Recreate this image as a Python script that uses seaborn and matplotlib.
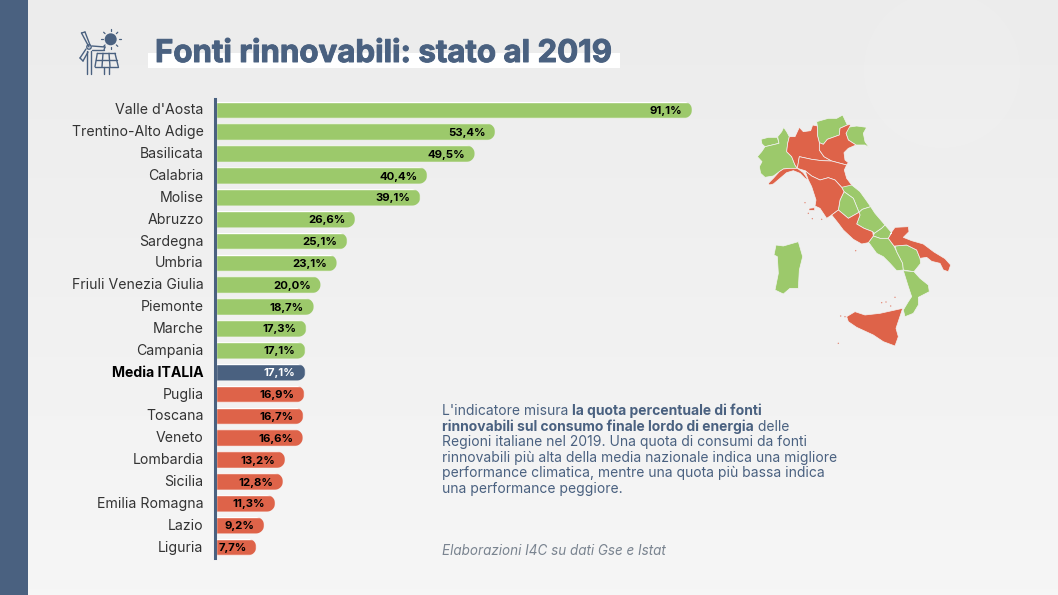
import numpy as np
import pandas as pd
import seaborn as sns
import matplotlib.pyplot as plt
import matplotlib.patheffects as pe
from matplotlib.colors import LinearSegmentedColormap
from matplotlib.patches import Polygon, Circle, Rectangle
from matplotlib.path import Path
from matplotlib.transforms import ScaledTranslation

regioni = ["Valle d'Aosta", "Trentino-Alto Adige", "Basilicata", "Calabria", "Molise", "Abruzzo",
           "Sardegna", "Umbria", "Friuli Venezia Giulia", "Piemonte", "Marche", "Campania",
           "Media ITALIA", "Puglia", "Toscana", "Veneto", "Lombardia", "Sicilia",
           "Emilia Romagna", "Lazio", "Liguria"]
quota = [91.1, 53.4, 49.5, 40.4, 39.1, 26.6, 25.1, 23.1, 20.0, 18.7, 17.3, 17.1,
         17.1, 16.9, 16.7, 16.6, 13.2, 12.8, 11.3, 9.2, 7.7]
sotto_media = ["Puglia", "Toscana", "Veneto", "Lombardia", "Sicilia", "Emilia Romagna", "Lazio", "Liguria"]

BLUE = '#4a6180'
GREEN = '#9cc96b'
RED = '#de6349'
FONT = 'Inter'

green_regions = [
    [(63,118),(85,112),(112,112),(117,130),(88,137),(75,140),(66,132)],
    [(75,140),(88,137),(117,130),(113,110),(125,95),(131,82),(140,95),(148,110),(143,130),(140,155),(155,170),(165,195),(172,205),(150,205),(130,207),(118,215),(100,228),(75,232),(62,220),(58,200),(66,185),(52,170),(65,155)],
    [(230,65),(265,55),(290,55),(308,45),(322,75),(300,85),(298,105),(262,118),(250,133),(238,128),(232,105),(232,78)],
    [(322,82),(350,78),(380,82),(370,100),(375,125),(388,143),(375,135),(348,135),(325,120),(318,100)],
    [(305,262),(320,250),(335,255),(360,275),(378,300),(392,320),(367,328),(357,337),(340,295),(312,275)],
    [(312,275),(340,295),(357,337),(325,355),(295,330),(300,300)],
    [(367,328),(392,320),(405,340),(435,375),(425,385),(403,400),(398,395),(372,385),(350,372),(360,345),(357,337)],
    [(435,375),(455,398),(445,415),(420,415),(400,408),(403,400),(425,385)],
    [(400,408),(420,415),(445,415),(462,438),(470,455),(488,490),(490,510),(470,512),(450,490),(430,470),(410,460),(388,430),(385,428)],
    [(465,438),(500,435),(530,450),(540,475),(542,490),(530,505),(522,515),(490,510),(488,490),(470,455)],
    [(490,512),(522,515),(540,535),(565,555),(568,575),(535,592),(535,615),(520,640),(495,650),(490,630),(505,605),(515,590),(505,560)],
    [(108,435),(130,438),(175,425),(188,470),(178,510),(175,565),(150,565),(130,582),(105,570),(115,520),(112,470),(102,465)],
]
red_regions = [
    [(148,110),(165,110),(178,82),(190,95),(212,92),(218,75),(232,78),(232,105),(238,128),(238,150),(252,170),(275,183),(245,182),(215,178),(178,170),(172,205),(165,195),(155,170),(140,155),(143,130)],
    [(298,105),(300,85),(322,75),(333,73),(318,100),(325,120),(348,135),(325,145),(312,158),(315,180),(325,188),(320,195),(275,183),(252,170),(238,150),(238,128),(250,133),(262,118)],
    [(178,170),(215,178),(245,182),(275,183),(320,195),(313,210),(320,235),(335,255),(305,262),(285,240),(265,233),(240,240),(215,228),(195,212),(172,205)],
    [(85,250),(100,235),(118,215),(130,207),(150,205),(172,205),(190,218),(205,240),(195,235),(180,220),(160,212),(140,218),(120,235),(100,252),(88,255)],
    [(195,212),(215,228),(240,240),(265,233),(285,240),(305,262),(312,275),(300,300),(295,330),(275,345),(260,355),(240,325),(225,318),(228,300),(215,260),(205,240)],
    [(295,330),(325,355),(357,337),(360,345),(350,372),(372,385),(398,395),(400,408),(385,428),(365,432),(340,418),(310,390),(295,370),(275,345)],
    [(445,415),(455,398),(450,403),(465,382),(505,380),(507,395),(490,412),(515,422),(550,432),(582,456),(615,476),(632,495),(625,515),(610,510),(600,490),(575,484),(560,472),(540,475),(530,450),(500,435),(465,438),(462,438)],
    [(320,650),(345,635),(375,645),(420,640),(488,625),(478,655),(468,685),(475,710),(465,738),(430,725),(400,705),(350,682),(325,665)],
    [(207,325),(224,323),(224,331),(207,331)],
]
isole = [(195,308),(205,340),(217,356),(245,358),(347,452),(302,648),(315,650),(295,730),(425,608),(438,606),(452,618),(465,592)]

sns.set_theme(style='white')
plt.rcParams['font.family'] = [FONT, 'DejaVu Sans']

fig = plt.figure(figsize=(10.58, 5.95), dpi=100)

# background layer in pixel coordinates
bg = fig.add_axes([0, 0, 1, 1])
bg.axis('off')
grad = np.linspace(0, 1, 100).reshape(-1, 1)
bg.imshow(grad, extent=(0, 1058, 595, 0), aspect='auto',
          cmap=LinearSegmentedColormap.from_list('g', ['#ececec', '#f6f6f6']))
bg.set_xlim(0, 1058)
bg.set_ylim(595, 0)
bg.add_patch(Rectangle((0, 0), 28, 595, color=BLUE, lw=0))
bg.add_patch(Circle((942, 70), 78, color='white', alpha=0.1, lw=0))

# title
bg.add_patch(Rectangle((148, 53), 472, 15, color='white', lw=0))
bg.text(155, 54, 'Fonti rinnovabili: stato al 2019', fontsize=22.5, fontweight='bold',
        color=BLUE, va='center', ha='left', family=FONT,
        path_effects=[pe.withStroke(linewidth=0.7, foreground=BLUE)])

# icon
for seg in [((87.3,51),(87.3,73.5)), ((90.7,51),(90.7,73.5)),
            ((89,47),(81.5,33)), ((81.5,33),(85,32)), ((85,32),(90,45)),
            ((92,46),(105,47)), ((105,47),(104,50)), ((104,50),(92,50)),
            ((86,49),(80,58)), ((80,58),(83,61)), ((83,61),(88,52)),
            ((97.3,53.3),(115,53.3)), ((115,53.3),(118.3,66.7)), ((118.3,66.7),(95,66.7)), ((95,66.7),(97.3,53.3)),
            ((103,53.3),(102,66.7)), ((109,53.3),(110,66.7)), ((96,60),(116.6,60)),
            ((104,67),(104,73.5)), ((109.3,67),(109.3,73.5))]:
    bg.plot(*zip(*seg), color=BLUE, lw=1.0, solid_capstyle='round')
bg.add_patch(Circle((89, 47), 2.2, fc='none', ec=BLUE, lw=1.0))
bg.add_patch(Circle((110.7, 39.3), 6, color=BLUE, lw=0))
for a in np.arange(0, 360, 45):
    c, s = np.cos(np.radians(a)), np.sin(np.radians(a))
    bg.plot([110.7 + 8 * c, 110.7 + 10 * c], [39.3 + 8 * s, 39.3 + 10 * s], color=BLUE, lw=0.9)

# map
for regions, col in ((green_regions, GREEN), (red_regions, RED)):
    for r in regions:
        pts = [(740 + x / 3, 100 + y / 3) for x, y in r]
        bg.add_patch(Polygon(pts, closed=True, fc=col, ec='#f3f3f3', lw=0.5))
for x, y in isole:
    bg.add_patch(Circle((740 + x / 3, 100 + y / 3), 0.7, color=RED, alpha=0.7, lw=0))

# text block
plain = dict(fontsize=10.0, color=BLUE, va='baseline', family=FONT)
lines = [
    [("L'indicatore misura ", False), ("la quota percentuale di fonti", True)],
    [("rinnovabili sul consumo finale lordo di energia", True), (" delle", False)],
    [("Regioni italiane nel 2019. Una quota di consumi da fonti", False)],
    [("rinnovabili più alta della media nazionale indica una migliore", False)],
    [("performance climatica, mentre una quota più bassa indica", False)],
    [("una performance peggiore.", False)],
]
rend = fig.canvas.get_renderer()
for i, runs in enumerate(lines):
    x = 442
    for txt, strong in runs:
        t = bg.text(x, 415 + i * 15.6, txt, fontweight='bold' if strong else 'normal', **plain)
        x += t.get_window_extent(rend).width
bg.text(442, 555, 'Elaborazioni I4C su dati Gse e Istat', fontsize=9.7, style='italic',
        color='#7a8490', family=FONT, va='baseline')

# bars
df = pd.DataFrame({'regione': regioni, 'quota': quota})
colors = {r: (BLUE if r == 'Media ITALIA' else RED if r in sotto_media else GREEN) for r in regioni}
ax = fig.add_axes([216 / 1058, 1 - 558 / 595, 522.5 / 1058, 459 / 595])
ax.patch.set_alpha(0)
sns.barplot(data=df, y='regione', x='quota', hue='regione', palette=colors, order=regioni,
            dodge=False, legend=False, width=0.76, saturation=1, ax=ax)
ax.set_xlim(0, 100)
ax.set_ylim(20.5, -0.5)
ax.set(xlabel='', ylabel='')
ax.xaxis.set_visible(False)
sns.despine(ax=ax, left=False, bottom=True)
ax.spines['left'].set_color(BLUE)
ax.spines['left'].set_linewidth(2.2)
ax.spines['left'].set_position(('outward', 1))
ax.tick_params(axis='y', length=0, pad=8)
up = ScaledTranslation(0, 1 / 100, fig.dpi_scale_trans)
for lab in ax.get_yticklabels():
    lab.set_fontsize(10.15)
    lab.set_color('#333333')
    lab.set_family(FONT)
    lab.set_transform(lab.get_transform() + up)
    if lab.get_text() == 'Media ITALIA':
        lab.set_fontweight('bold')
        lab.set_color('black')

# round the right end of each bar with a clip path
r_x = 8.3 / 5.225
for bar in ax.patches:
    if bar.get_width() == 0:
        continue
    y0, w, h = bar.get_y(), bar.get_width(), bar.get_height()
    t = np.linspace(-np.pi / 2, np.pi / 2, 30)
    arc = np.column_stack([w - r_x + r_x * np.cos(t), y0 + h / 2 + h / 2 * np.sin(t)])
    verts = np.vstack([[(-1, y0)], arc, [(-1, y0 + h)], [(-1, y0)]])
    bar.set_clip_path(Path(verts, closed=True), ax.transData)

for i, (r, v) in enumerate(zip(regioni, quota)):
    ax.annotate(f'{v:.1f}%'.replace('.', ','), (v, i), xytext=(-7, 0), textcoords='offset points',
                ha='right', va='center_baseline', fontsize=8.2, fontweight='bold',
                color='white' if r == 'Media ITALIA' else 'black', family=FONT)

fig.savefig('out.png', dpi=100)
